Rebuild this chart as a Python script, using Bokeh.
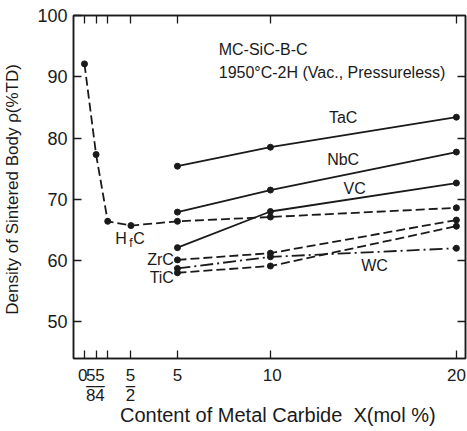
from bokeh.plotting import figure
from bokeh.models import Range1d, LinearAxis, FixedTicker, Label
from bokeh.embed import file_html
from bokeh.resources import INLINE

FONT = "Liberation Sans"
INK = "#1a1a1a"
NB = "\u00a0"

# ---- data ----
x_hfc = [0, 0.625, 1.25, 2.5, 5, 10, 20]
hfc = [92.1, 77.3, 66.4, 65.7, 66.4, 67.1, 68.6]
x_mc = [5, 10, 20]
tac = [75.4, 78.5, 83.4]
nbc = [67.9, 71.5, 77.7]
vc = [62.1, 68.0, 72.65]
zrc = [60.1, 61.2, 66.6]
tic = [58.0, 59.1, 65.6]
wc = [58.7, 60.6, 62.0]

x_ticks = [0, 0.625, 1.25, 2.5, 5, 10, 20]
x_tick_num = ["0", "5", "5", "5", "5", "10", "20"]
x_tick_den = [None, "8", "4", "2", None, None, None]
x_tick_label_pos = [-0.1, 0.33, 0.84, 2.47, 5.0, 10.1, 20.0]
y_ticks = [50, 60, 70, 80, 90, 100]

p = figure(width=467, height=431, output_backend="svg", toolbar_location=None,
           x_range=Range1d(-0.59, 20.49), y_range=Range1d(44, 100),
           min_border_left=72, min_border_right=2, min_border_top=15, min_border_bottom=73)
p.background_fill_color = "white"
p.outline_line_color = INK
p.outline_line_width = 1.5
p.grid.visible = False

def style_ticks(ax):
    ax.major_tick_in = 8
    ax.major_tick_out = 0
    ax.minor_tick_in = 0
    ax.minor_tick_out = 0
    ax.axis_line_color = INK
    ax.axis_line_width = 1.5
    ax.major_tick_line_color = INK
    ax.major_tick_line_width = 1.3

# primary bottom axis: ticks only
p.xaxis.ticker = FixedTicker(ticks=x_ticks)
p.xaxis.major_label_text_font_size = "0px"
p.xaxis.major_label_standoff = 0
style_ticks(p.xaxis[0])

# second bottom axis: tick labels (stacked fractions) and title
labels = {}
for xp, num, den in zip(x_tick_label_pos, x_tick_num, x_tick_den):
    labels[xp] = num if den is None else num + "\n\u2013\n" + den
lab_axis = LinearAxis(ticker=FixedTicker(ticks=x_tick_label_pos),
                      major_label_overrides=labels)
lab_axis.major_label_text_font = FONT
lab_axis.major_label_text_font_size = "17px"
lab_axis.major_label_text_color = INK
lab_axis.major_label_text_line_height = 0.55
lab_axis.major_label_standoff = 7
lab_axis.major_tick_in = 0
lab_axis.major_tick_out = 0
lab_axis.minor_tick_in = 0
lab_axis.minor_tick_out = 0
lab_axis.axis_line_color = None
lab_axis.axis_label = NB * 3 + "Content of Metal Carbide" + NB * 2 + "X(mol %)"
lab_axis.axis_label_text_font = FONT
lab_axis.axis_label_text_font_style = "normal"
lab_axis.axis_label_text_font_size = "20px"
lab_axis.axis_label_text_color = INK
lab_axis.axis_label_standoff = -4
p.add_layout(lab_axis, "below")

p.yaxis.ticker = FixedTicker(ticks=y_ticks)
p.yaxis.major_label_text_font = FONT
p.yaxis.major_label_text_font_size = "18px"
p.yaxis.major_label_text_color = INK
p.yaxis.major_label_standoff = 6
p.yaxis.axis_label = "Density of Sintered Body ρ(%TD)" + NB
p.yaxis.axis_label_text_font = FONT
p.yaxis.axis_label_text_font_style = "normal"
p.yaxis.axis_label_text_font_size = "17px"
p.yaxis.axis_label_text_color = INK
p.yaxis.axis_label_standoff = 12
style_ticks(p.yaxis[0])

top = LinearAxis(ticker=FixedTicker(ticks=x_ticks))
right = LinearAxis(ticker=FixedTicker(ticks=[50, 60, 70, 80, 90]))
for ax in (top, right):
    ax.major_label_text_font_size = "0px"
    ax.major_label_standoff = 0
    style_ticks(ax)
p.add_layout(top, "above")
p.add_layout(right, "right")

DASH = "9 4"
DASHDOT = "13 4 2 4"
series = [
    (x_hfc, hfc, DASH),
    (x_mc, tac, "solid"),
    (x_mc, nbc, "solid"),
    (x_mc, vc, "solid"),
    (x_mc, zrc, DASH),
    (x_mc, tic, DASH),
    (x_mc, wc, DASHDOT),
]
for xs, ys, dash in series:
    p.line(xs, ys, line_color=INK, line_width=1.8, line_dash=dash)
    p.scatter(xs, ys, size=6, fill_color=INK, line_color=INK)

def lab(x, y, t, size="16px", align="center", base="middle"):
    p.add_layout(Label(x=x, y=y, text=t, text_font=FONT, text_font_size=size,
                       text_color=INK, text_align=align, text_baseline=base))

# annotations
lab(7.22, 94.4, "MC-SiC-B-C", "16px", "left")
lab(7.22, 90.7, "1950°C-2H (Vac., Pressureless)", "16px", "left")
lab(13.91, 83.35, "TaC")
lab(13.91, 76.5, "NbC")
lab(14.53, 71.8, "VC")
lab(15.60, 59.25, "WC")
lab(1.97, 63.6, "H")
lab(2.50, 62.9, "f", "12px")
lab(2.94, 63.6, "C")
lab(4.81, 60.2, "ZrC", "16px", "right")
lab(4.81, 57.3, "TiC", "16px", "right")

open("out.html", "w").write(file_html(p, INLINE))
